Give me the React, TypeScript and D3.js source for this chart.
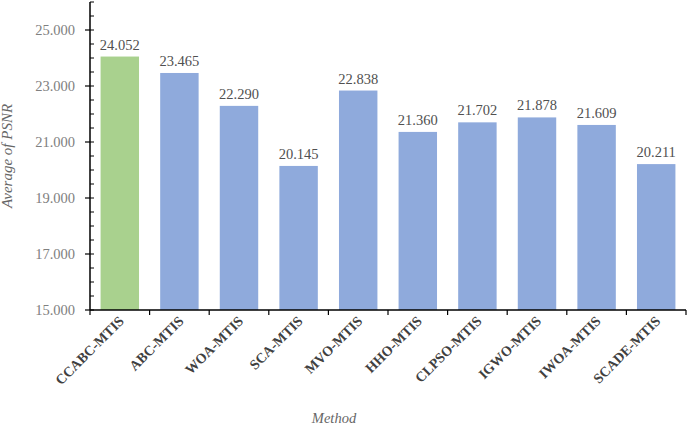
import React from 'react'
import * as d3 from 'd3'

// values
const methods = ['CCABC-MTIS', 'ABC-MTIS', 'WOA-MTIS', 'SCA-MTIS', 'MVO-MTIS',
  'HHO-MTIS', 'CLPSO-MTIS', 'IGWO-MTIS', 'IWOA-MTIS', 'SCADE-MTIS']
const psnr = [24.052, 23.465, 22.29, 20.145, 22.838, 21.36, 21.702, 21.878, 21.609, 20.211]
const yTicks = [15, 17, 19, 21, 23, 25]
const yMinor = d3.range(15, 26.01, 0.5)

const W = 688
const H = 428
const margin = { top: 2, right: 2, bottom: 118, left: 90 }
const serif = { fontFamily: 'Liberation Serif, DejaVu Serif, serif' }

export default function App() {
  const innerW = W - margin.left - margin.right
  const innerH = H - margin.top - margin.bottom

  const x = d3.scaleBand<string>().domain(methods).range([0, innerW])
    .paddingInner(0.355).paddingOuter(0.1775)
  const y = d3.scaleLinear().domain([15, 26]).range([innerH, 0])
  const step = x.step()
  const fmt = d3.format('.3f')

  return (
    <svg width={W} height={H} style={{ position: 'absolute', left: 0, top: 0 }}>
      <rect width={W} height={H} fill="#fff" />
      <g transform={`translate(${margin.left},${margin.top})`}>
        {methods.map((m, i) => (
          <g key={m}>
            <rect x={x(m)} y={y(psnr[i])} width={x.bandwidth()} height={innerH - y(psnr[i])}
              fill={i === 0 ? '#A9D18E' : '#8FAADC'} />
            <text x={(x(m) as number) + x.bandwidth() / 2} y={y(psnr[i]) - 7}
              textAnchor="middle" style={serif} fontSize={14.5} fill="#505050">
              {fmt(psnr[i])}
            </text>
          </g>
        ))}

        {/* y axis */}
        <line x1={0} x2={0} y1={0} y2={innerH} stroke="#000" strokeWidth={1.5} />
        {yMinor.map(v => (
          <line key={'m' + v} x1={0} x2={4} y1={y(v)} y2={y(v)} stroke="#000" strokeWidth={1} />
        ))}
        {yTicks.map(v => (
          <g key={v}>
            <line x1={-5} x2={0} y1={y(v)} y2={y(v)} stroke="#000" strokeWidth={1.2} />
            <text x={-15} y={y(v)} dy="0.35em" textAnchor="end" style={serif}
              fontSize={14.5} fill="#808080">{fmt(v)}</text>
          </g>
        ))}

        {/* x axis */}
        <line x1={0} x2={innerW} y1={innerH} y2={innerH} stroke="#000" strokeWidth={1.5} />
        {d3.range(methods.length + 1).map(i => (
          <line key={'t' + i} x1={i * step} x2={i * step} y1={innerH} y2={innerH + 5}
            stroke="#000" strokeWidth={1.2} />
        ))}
        {methods.map(m => (
          <text key={'l' + m} style={serif} fontSize={14} fontWeight="bold" fill="#404040"
            textAnchor="end"
            transform={`translate(${(x(m) as number) + x.bandwidth() / 2 + 5},${innerH + 12}) rotate(-45)`}>
            {m}
          </text>
        ))}
      </g>

      <text x={334} y={423} textAnchor="middle" style={serif} fontSize={14.5}
        fontStyle="italic" fill="#666">Method</text>
      <text transform={`translate(12,${margin.top + innerH / 2}) rotate(-90)`} textAnchor="middle"
        style={serif} fontSize={15} fontStyle="italic" fill="#666">Average of PSNR</text>
    </svg>
  )
}
